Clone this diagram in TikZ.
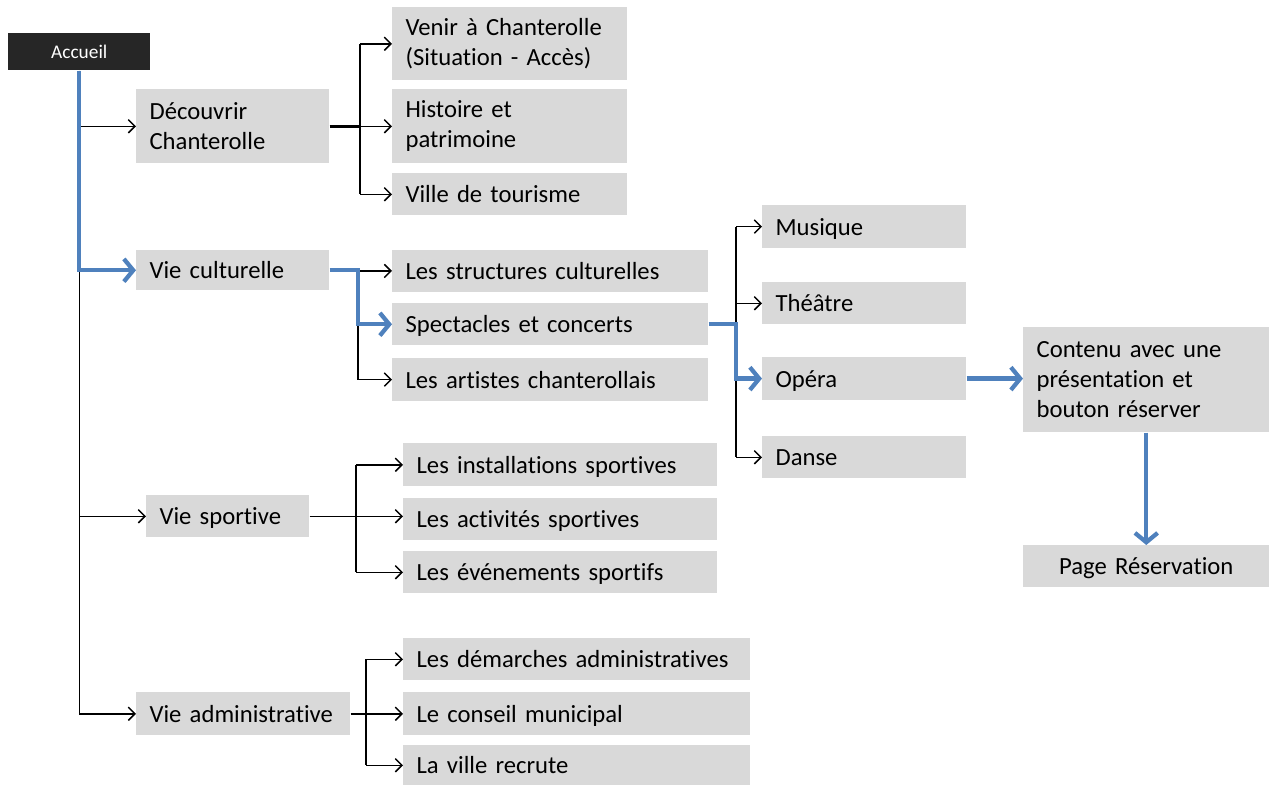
\documentclass[tikz,border=0pt]{standalone}
\usepackage{fontspec}
\setmainfont{Carlito}[Ligatures={NoCommon}]
\usetikzlibrary{arrows.meta}
\definecolor{boxgray}{HTML}{D9D9D9}
\definecolor{linkblue}{HTML}{4F81BD}
\definecolor{rootfill}{HTML}{262626}
\begin{document}
\begin{tikzpicture}[x=0.75pt,y=-0.75pt,
  gbox/.style={fill=boxgray, anchor=north west, inner xsep=10pt, inner ysep=0pt,
               align=left, font=\fontsize{18.5}{22.5}\selectfont},
  one/.style={gbox, text height=15pt, text depth=2.2pt},
  rail/.style={draw=black, line width=1.1pt},
  link/.style={rail, -{Straight Barb[length=5pt,width=10pt,line width=1.1pt]}},
  hot/.style={draw=linkblue, line width=3.2pt,
              -{Straight Barb[length=7pt,width=17pt,line width=3.2pt]}},
]
\useasboundingbox (0,0) rectangle (1277,785);

% root of the site map
\node[fill=rootfill, text=white, anchor=north west, minimum width=106.5pt,
      minimum height=27.75pt, inner sep=0pt, font=\fontsize{14.5}{17}\selectfont]
      (root) at (8,33) {Accueil};

% first level
\node[gbox, text width=124.75pt, minimum height=55.5pt] (decouv) at (136,89) {Découvrir\\Chanterolle};
\node[one, text width=124.75pt, minimum height=30pt] (viecult) at (136,250) {Vie culturelle};
\node[one, text width=102.25pt, minimum height=31.5pt] (vsport) at (146,495) {Vie sportive};
\node[one, text width=140.5pt, minimum height=32.25pt] (vadm) at (136,692) {Vie administrative};

% Découvrir Chanterolle
\node[gbox, text width=156.25pt, minimum height=54.75pt] (venir) at (392,7) {Venir à Chanterolle\\(Situation - Accès)};
\node[gbox, text width=156.25pt, minimum height=55.5pt] (hist) at (392,89) {Histoire et\\patrimoine};
\node[one, text width=156.25pt, minimum height=31.5pt] (ville) at (392,173) {Ville de tourisme};

% Vie culturelle
\node[one, text width=217pt, minimum height=31pt] (struct) at (392,250) {Les structures culturelles};
\node[one, text width=217pt, minimum height=31.5pt] (spect) at (392,303) {Spectacles et concerts};
\node[one, text width=217pt, minimum height=32pt] (artist) at (392,358) {Les artistes chanterollais};

% Spectacles et concerts
\node[one, text width=133pt, minimum height=32pt] (musique) at (762,205) {Musique};
\node[one, text width=133pt, minimum height=31.5pt] (theatre) at (762,282) {Théâtre};
\node[one, text width=133pt, minimum height=32pt] (opera) at (762,357) {Opéra};
\node[one, text width=133pt, minimum height=31.5pt] (danse) at (762,436) {Danse};

% booking path
\node[gbox, text width=164.5pt, minimum height=78.75pt] (contenu) at (1023,327) {Contenu avec une\\présentation et\\bouton réserver};
\node[one, text width=164.5pt, minimum height=31.5pt, align=center] (page) at (1023,545) {Page Réservation};

% Vie sportive
\node[one, text width=215.5pt, minimum height=32.25pt] (install) at (403,443) {Les installations sportives};
\node[one, text width=215.5pt, minimum height=31.5pt] (activ) at (403,498) {Les activités sportives};
\node[one, text width=215.5pt, minimum height=31.5pt] (events) at (403,551) {Les événements sportifs};

% Vie administrative
\node[one, text width=240.25pt, minimum height=31.5pt] (demarch) at (403,638) {Les démarches administratives};
\node[one, text width=240.25pt, minimum height=32.25pt] (conseil) at (403,692) {Le conseil municipal};
\node[one, text width=240.25pt, minimum height=30pt] (recrute) at (403,745) {La ville recrute};

% junction points of the branches
\coordinate (jd) at (360,126);
\coordinate (jc) at (358,270);
\coordinate (js) at (736,324);
\coordinate (jsp) at (356,517);
\coordinate (ja) at (366,713);

% trunk
\draw[link] (root.south) |- (vadm.west);
\draw[link] (root.south |- decouv.west) -- (decouv.west);
\draw[link] (root.south |- vsport.west) -- (vsport.west);

% Découvrir branch
\draw[draw=black, line width=2.4pt] (decouv.east) -- (jd |- decouv.east);
\draw[rail] (jd |- venir.west) -- (jd |- ville.west);
\draw[link] (jd |- venir.west) -- (venir.west);
\draw[link] (jd |- hist.west) -- (hist.west);
\draw[link] (jd |- ville.west) -- (ville.west);

% Vie culturelle branch
\draw[rail] (jc |- struct.west) -- (jc |- artist.west);
\draw[link] (jc |- struct.west) -- (struct.west);
\draw[link] (jc |- artist.west) -- (artist.west);

% Spectacles branch
\draw[rail] (js |- musique.west) -- (js |- danse.west);
\draw[link] (js |- musique.west) -- (musique.west);
\draw[link] (js |- theatre.west) -- (theatre.west);
\draw[link] (js |- danse.west) -- (danse.west);

% Vie sportive branch
\draw[rail] (jsp |- install.west) -- (jsp |- events.west);
\draw[link] (vsport.east) -- (vsport.east -| activ.west);
\draw[link] (jsp |- install.west) -- (install.west);
\draw[link] (jsp |- events.west) -- (events.west);

% Vie administrative branch
\draw[rail] (ja |- demarch.west) -- (ja |- recrute.west);
\draw[link] (vadm.east) -- (vadm.east -| conseil.west);
\draw[link] (ja |- demarch.west) -- (demarch.west);
\draw[link] (ja |- recrute.west) -- (recrute.west);

% highlighted path to the booking page
\draw[hot] (root.south) |- (viecult.west);
\draw[hot] (viecult.east) -| (jc |- spect.west) -- (spect.west);
\draw[hot] (spect.east) -| (js |- opera.west) -- (opera.west);
\draw[hot] (opera.east) -- (opera.east -| contenu.west);
\draw[hot] (contenu.south) -- (page.north);
\end{tikzpicture}
\end{document}
